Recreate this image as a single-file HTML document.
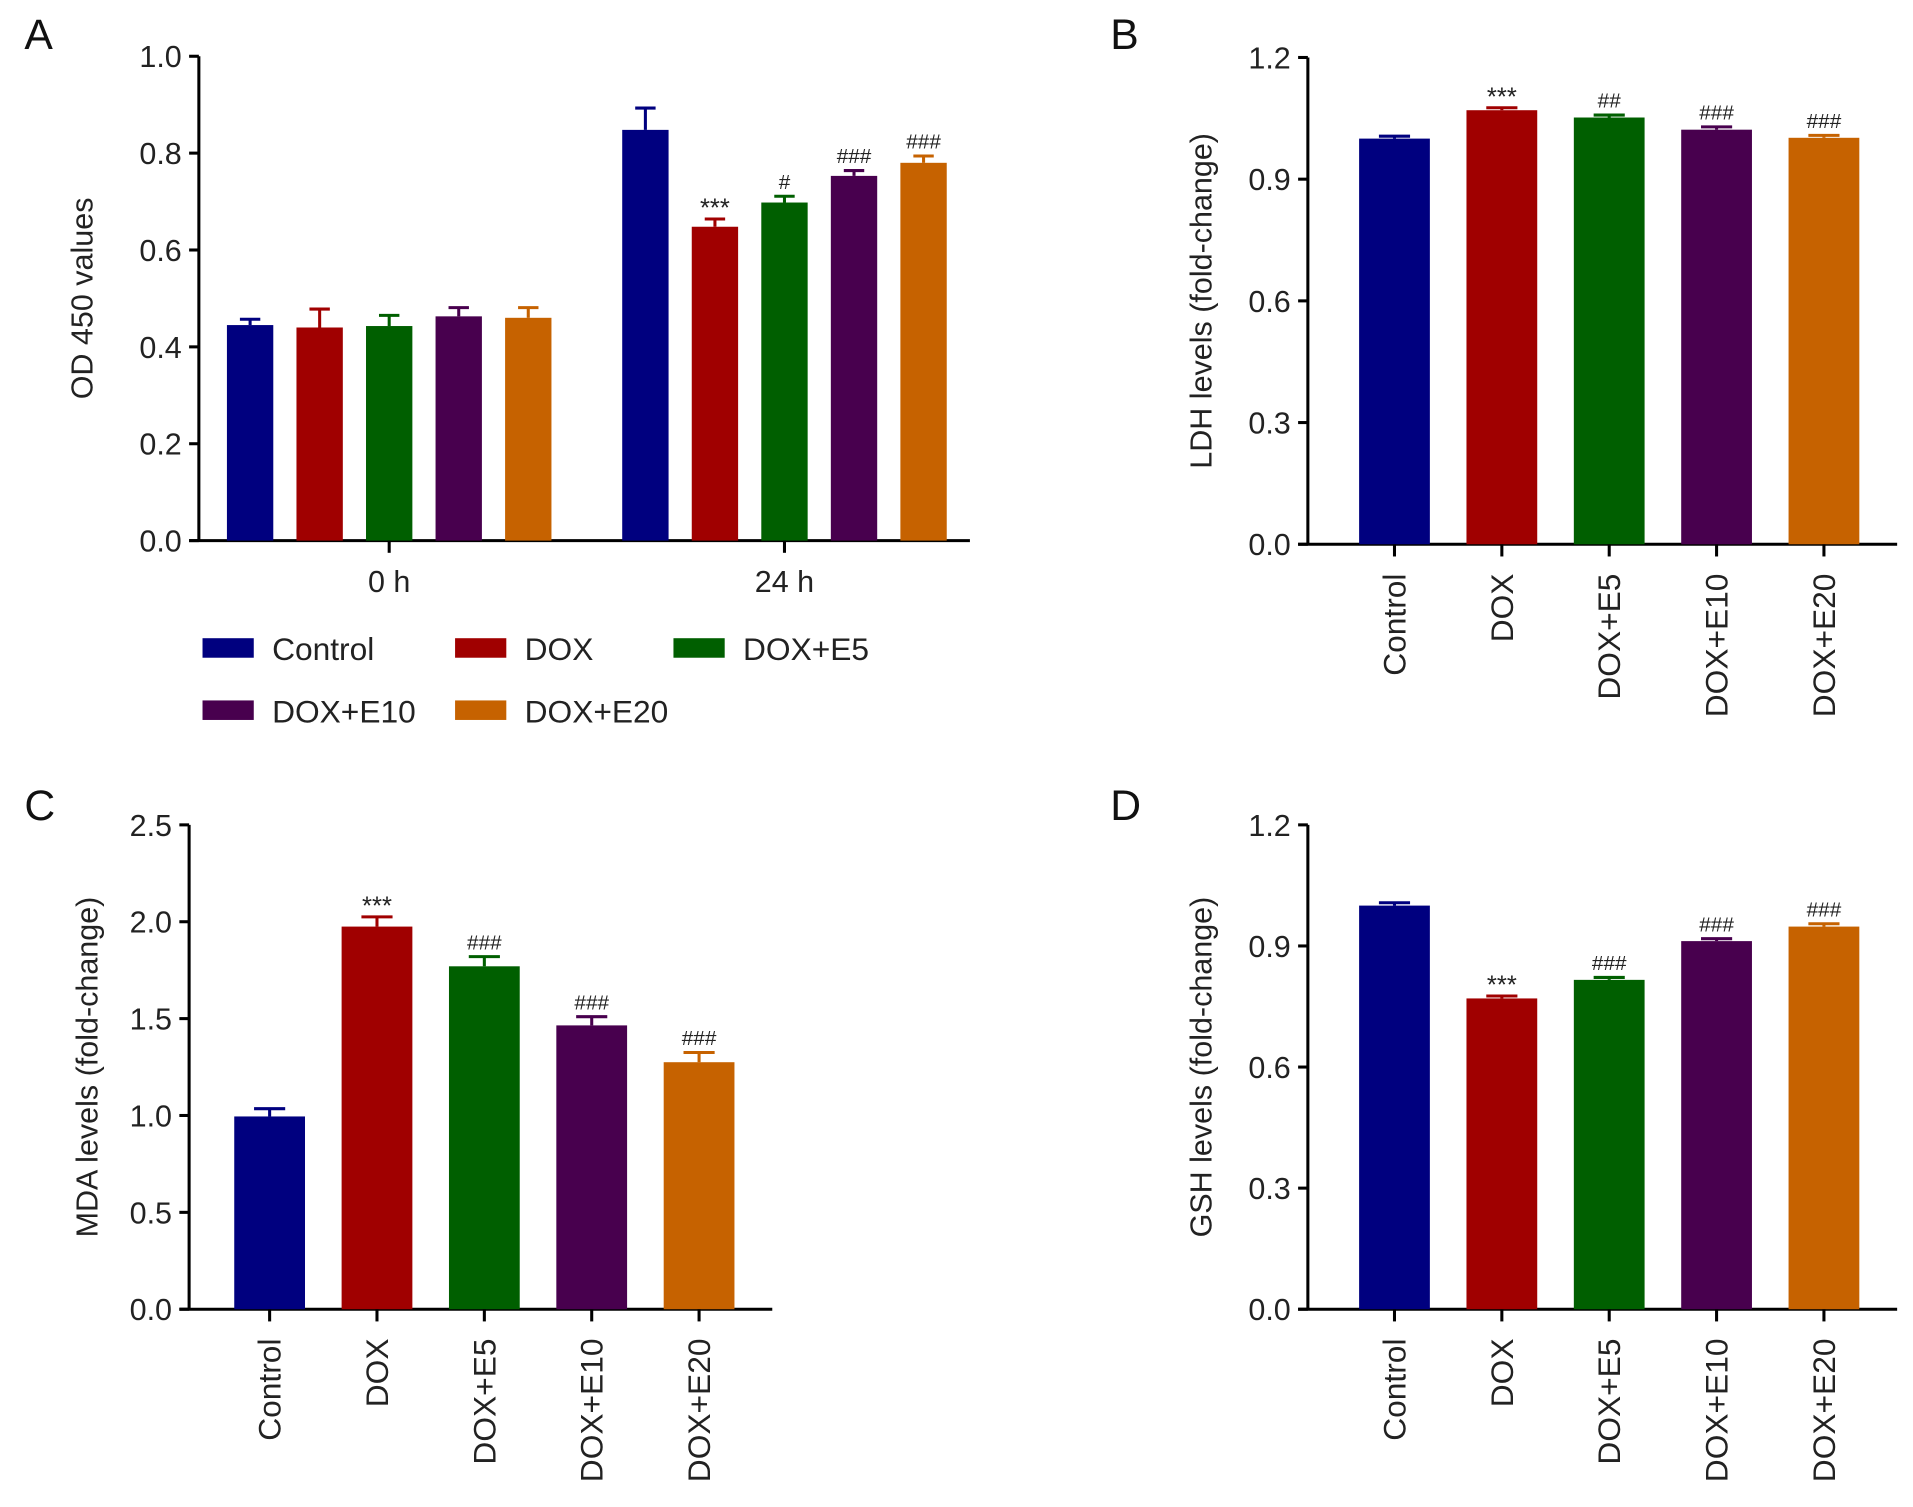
<!DOCTYPE html>
<html><head><meta charset="utf-8"><style>
html,body{margin:0;padding:0;background:#fff;}
svg{display:block;font-family:"Liberation Sans",Arial,sans-serif;}
</style></head><body>
<svg id="fig" width="1913" height="1507" viewBox="0 0 1568 1235" xmlns="http://www.w3.org/2000/svg"></svg>
<script>
const groups = ["Control","DOX","DOX+E5","DOX+E10","DOX+E20"];
const colors = ["#00007f","#a00000","#005f00","#48004e","#c66200"];
// Panel A
const aTimes = ["0 h","24 h"];
const a0h = [0.445,0.44,0.443,0.463,0.46];
const a0hErr = [0.012,0.038,0.022,0.018,0.021];
const a24h = [0.848,0.648,0.698,0.753,0.78];
const a24hErr = [0.045,0.016,0.013,0.011,0.014];
const a24hMarks = ["","***","#","###","###"];
const aTicks = [0,0.2,0.4,0.6,0.8,1.0];
// Panel B
const bVals = [1.0,1.07,1.052,1.022,1.002];
const bErr = [0.006,0.006,0.006,0.007,0.006];
const bMarks = ["","***","##","###","###"];
const bTicks = [0,0.3,0.6,0.9,1.2];
// Panel C
const cVals = [0.995,1.975,1.77,1.465,1.275];
const cErr = [0.04,0.05,0.05,0.045,0.05];
const cMarks = ["","***","###","###","###"];
const cTicks = [0,0.5,1.0,1.5,2.0,2.5];
// Panel D
const dVals = [1.0,0.77,0.816,0.912,0.948];
const dErr = [0.007,0.006,0.006,0.006,0.007];
const dMarks = ["","***","###","###","###"];
const dTicks = [0,0.3,0.6,0.9,1.2];

const svg = document.getElementById('fig');
const NS = "http://www.w3.org/2000/svg";
function mk(tag, attrs, parent){
  const e = document.createElementNS(NS, tag);
  for (const k in attrs) e.setAttribute(k, attrs[k]);
  (parent||svg).appendChild(e);
  return e;
}
function txt(s, attrs, parent){ const t = mk('text', attrs, parent); t.textContent = s; return t; }

function axes(g, x0, yTop, yZero, xEnd, ticks, ymax, ylabel, ylabX){
  const y = v => yZero - (v/ymax)*(yZero-yTop);
  const ax = mk('line',{x1:x0,y1:yTop,x2:x0,y2:yZero,stroke:'#000','stroke-width':2.5},g);
  
  
  const bx = mk('line',{x1:x0-8,y1:yZero,x2:xEnd,y2:yZero,stroke:'#000','stroke-width':2.5},g);
  
  
  ticks.forEach(t=>{
    mk('line',{x1:x0-8,y1:y(t),x2:x0,y2:y(t),stroke:'#000','stroke-width':2.5},g);
    const l = txt(t.toFixed(1),{x:x0-14,y:y(t)+9,'font-size':25,'text-anchor':'end',fill:'#222'},g);
    
    
  });
  const cy = (yTop+yZero)/2;
  const yl = txt(ylabel,{x:ylabX,y:cy,'font-size':25,'text-anchor':'middle',fill:'#222',transform:`rotate(-90 ${ylabX} ${cy})`},g);
  
  
  return y;
}
function bar(g, cx, w, v, err, col, y, mark, name){
  const r = mk('rect',{x:cx-w/2,y:y(v),width:w,height:y(0)-y(v),fill:col},g);
  
  
  mk('line',{x1:cx,y1:y(v),x2:cx,y2:y(v+err),stroke:col,'stroke-width':2.5},g);
  mk('line',{x1:cx-w*0.22,y1:y(v+err),x2:cx+w*0.22,y2:y(v+err),stroke:col,'stroke-width':2.5},g);
  if (mark){
    const m = txt(mark,{x:cx,y:y(v+err)-(mark[0]==='*'?2:6),'font-size':mark[0]==='*'?21:17,'text-anchor':'middle',fill:'#222'},g);
    
    
  }
}
function panelLetter(s,x,y){
  const t = txt(s,{x:x,y:y,'font-size':35,fill:'#111'});
  
  
}
function catPanel(name, x0, yTop, yZero, xEnd, ticks, vals, errs, marks, ylabel, ylabX, firstCx){
  const g = mk('g',{});
  
  
  const y = axes(g,x0,yTop,yZero,xEnd,ticks,ticks[ticks.length-1],ylabel,ylabX);
  const step = 88;
  vals.forEach((v,i)=>{
    const cx = firstCx + i*step;
    bar(g,cx,58,v,errs[i],colors[i],y,marks[i],'bar-'+groups[i].toLowerCase().replace('+','-'));
    mk('line',{x1:cx,y1:yZero,x2:cx,y2:yZero+10,stroke:'#000','stroke-width':2.5},g);
    const t = txt(groups[i],{x:cx+9,y:yZero+24,'font-size':26,'text-anchor':'end',fill:'#222',transform:`rotate(-90 ${cx+9} ${yZero+24})`},g);
    
    
  });
}

// Panel A
panelLetter('A',20,40);
(function(){
  const g = mk('g',{});
  
  
  const y = axes(g,163,46,443,795,aTicks,1.0,'OD 450 values',76);
  const series = [a0h,a24h], errs=[a0hErr,a24hErr], marks=[["","","","",""],a24hMarks];
  const starts=[205,529];
  series.forEach((s,gi)=>{
    s.forEach((v,i)=>{
      bar(g,starts[gi]+i*57,38,v,errs[gi][i],colors[i],y,marks[gi][i],'bar-'+aTimes[gi].replace(' ','')+'-'+groups[i].toLowerCase().replace('+','-'));
    });
    const cx = starts[gi]+2*57;
    mk('line',{x1:cx,y1:443,x2:cx,y2:453,stroke:'#000','stroke-width':2.5},g);
    const t = txt(aTimes[gi],{x:cx,y:485,'font-size':25,'text-anchor':'middle',fill:'#222'},g);
    
    
  });
  const lp = [[166,531],[373,531],[552,531],[166,582],[373,582]];
  groups.forEach((gr,i)=>{
    const le = mk('g',{},g);
    
    
    mk('rect',{x:lp[i][0],y:lp[i][1]-8,width:42,height:16,fill:colors[i]},le);
    txt(gr,{x:lp[i][0]+57,y:lp[i][1]+10,'font-size':26,fill:'#222'},le);
  });
})();

panelLetter('B',910,40);
catPanel('panel-b-chart',1072,47,446,1555,bTicks,bVals,bErr,bMarks,'LDH levels (fold-change)',993,1143);
panelLetter('C',20,672);
catPanel('panel-c-chart',155,676,1073,633,cTicks,cVals,cErr,cMarks,'MDA levels (fold-change)',80,221);
panelLetter('D',910,672);
catPanel('panel-d-chart',1072,676,1073,1555,dTicks,dVals,dErr,dMarks,'GSH levels (fold-change)',993,1143);
</script>
</body></html>
